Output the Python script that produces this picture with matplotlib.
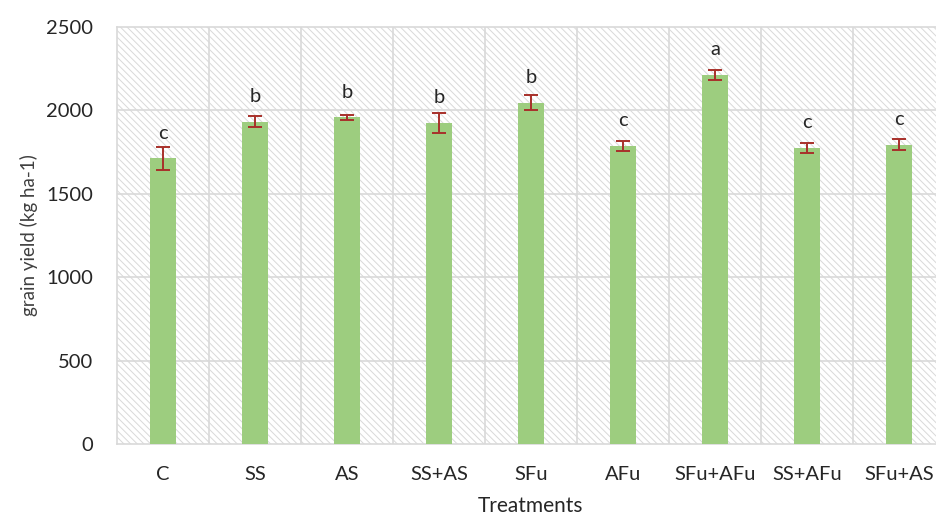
import matplotlib.pyplot as plt

treatments = ['C', 'SS', 'AS', 'SS+AS', 'SFu', 'AFu', 'SFu+AFu', 'SS+AFu', 'SFu+AS']
grain_yield = [1713, 1932, 1960, 1926, 2046, 1787, 2214, 1775, 1795]
std_err = [70, 32, 15, 60, 45, 32, 30, 32, 35]
letters = ['c', 'b', 'b', 'b', 'b', 'c', 'a', 'c', 'c']

plt.rcParams['font.family'] = ['Lato', 'DejaVu Sans']
plt.rcParams['hatch.linewidth'] = 0.7
plt.rcParams['hatch.color'] = '#d9d9d9'

fig = plt.figure(figsize=(9.36, 5.18), dpi=100)
ax = fig.add_axes([0.125, 0.143, 0.8845, 0.805])

# hatched plot background
ax.patch.set_facecolor('white')
ax.patch.set_hatch('\\' * 5)
ax.patch.set_edgecolor('#d9d9d9')

x = range(len(treatments))
ax.bar(x, grain_yield, width=0.28, color='#9dcd7f', zorder=3)
ax.errorbar(x, grain_yield, yerr=std_err, fmt='none', ecolor='#a8302a',
            elinewidth=1.4, capsize=5, capthick=1.4, zorder=4)

# significance letters sit a fixed distance above each bar
for i, (v, l) in enumerate(zip(grain_yield, letters)):
    ax.annotate(l, (i, v), textcoords='offset points', xytext=(0, 14),
                ha='center', va='baseline', fontsize=14.5, color='#262626')

ax.set_xlim(-0.5, len(treatments) - 0.5)
ax.set_ylim(0, 2500)
ax.set_yticks([0, 500, 1000, 1500, 2000, 2500])
ax.set_xticks(list(x))
ax.set_xticklabels(treatments)

# gridlines: horizontal at ticks, vertical between categories
for yv in [500, 1000, 1500, 2000]:
    ax.axhline(yv, color='#d9d9d9', lw=1.2, zorder=1)
for xv in [i + 0.5 for i in range(len(treatments) - 1)]:
    ax.axvline(xv, color='#d9d9d9', lw=1.2, zorder=1)

for s in ax.spines.values():
    s.set_color('#d9d9d9')
    s.set_linewidth(1.2)

ax.tick_params(axis='both', length=0, labelsize=14.5, colors='#262626')
ax.tick_params(axis='x', pad=16)
ax.tick_params(axis='y', pad=17)

ax.set_xlabel('Treatments', fontsize=15, color='#262626', labelpad=9)
ax.set_ylabel('grain yield (kg ha-1)', fontsize=13.5, color='#404040', labelpad=6)

fig.savefig('out.png', dpi=100)
